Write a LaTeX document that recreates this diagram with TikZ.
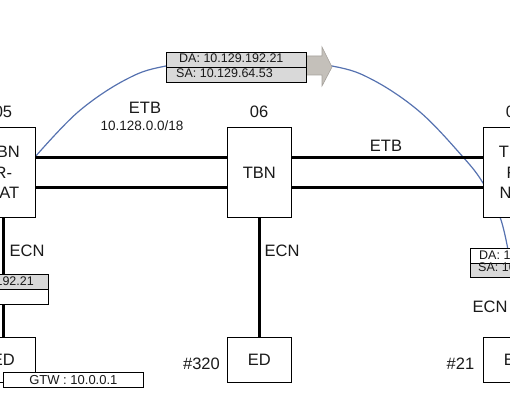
\documentclass[tikz,border=0pt]{standalone}
\usepackage{fontspec}
\setmainfont{Liberation Sans}
\definecolor{arcblue}{HTML}{5672B0}
\definecolor{lblgray}{HTML}{D9D9D9}
\definecolor{arrfill}{HTML}{C4C0BA}
\definecolor{arrdraw}{HTML}{A5A19B}
\definecolor{txt}{HTML}{1A1A1A}
\begin{document}
\begin{tikzpicture}[x=1pt,y=-1pt,
  bigtxt/.style={font=\fontsize{16.5}{20.5}\selectfont, text=txt, inner sep=0pt},
  midtxt/.style={font=\fontsize{13.5}{16}\selectfont, text=txt, inner sep=0pt},
  lbltxt/.style={font=\fontsize{12.5}{14}\selectfont, text=txt, inner sep=0pt},
  gtwtxt/.style={font=\fontsize{13}{14}\selectfont, text=txt, inner sep=0pt},
  tbnbox/.style={draw=black, line width=0.8pt, fill=white, minimum width=64pt, minimum height=90pt, inner sep=0pt, anchor=north west, align=center, bigtxt},
  edbox/.style={draw=black, line width=0.8pt, fill=white, minimum width=64pt, minimum height=45pt, inner sep=0pt, anchor=north west, bigtxt},
  row/.style={draw=black, line width=0.7pt, minimum width=140pt, minimum height=15pt, inner sep=0pt, anchor=north west},
  etb/.style={line width=2.2pt, black},
  ecn/.style={line width=3pt, black},
  arcline/.style={draw=arcblue, line width=1.2pt}
]
\useasboundingbox (0,0) rectangle (510,417);
\clip (0,0) rectangle (510,417);

% blue arc
\draw[arcline] plot[smooth, tension=0.6] coordinates {(35,157) (78,112) (125,80) (166,66) (249,56) (332,66) (373,80) (420,112) (463,157) (483,183) (500,217) (508,250)};

% boxes
\node[tbnbox] (tbnL) at (-29,127) {TBN\\R-\\NAT};
\node[tbnbox] (tbn6) at (227,127) {TBN};
\node[tbnbox] (tbnR) at (483,127) {TBN\\R-\\NAT};
\node[edbox] (edL) at (-29,337) {ED};
\node[edbox] (ed6) at (227,337) {ED};
\node[edbox] (edR) at (483,337) {ED};

% ETB lines
\draw[etb] ([yshift=15pt]tbnL.east) -- ([yshift=15pt]tbn6.west);
\draw[etb] ([yshift=-15pt]tbnL.east) -- ([yshift=-15pt]tbn6.west);
\draw[etb] ([yshift=15pt]tbn6.east) -- ([yshift=15pt]tbnR.west);
\draw[etb, line width=3.2pt] ([yshift=-15pt]tbn6.east) -- ([yshift=-15pt]tbnR.west);

% ECN lines
\draw[ecn] (tbnL.south) -- (edL.north);
\draw[ecn] (tbn6.south) -- (ed6.north);
\draw[ecn] (tbnR.south) -- (edR.north);

% arrow
\filldraw[fill=arrfill, draw=arrdraw, line width=0.6pt] (300,56) -- (322,56) -- (322,47) -- (332,67) -- (322,86) -- (322,75) -- (300,75) -- cycle;

% top label
\node[row, fill=lblgray] (daTop) at (166,52) {};
\node[row, fill=lblgray, minimum height=15pt] (saTop) at (166,67) {};
\node[lbltxt, anchor=west] (daTopT) at (179,58.5) {DA: 10.129.192.21};
\node[lbltxt, anchor=west] (saTopT) at (176,73) {SA: 10.129.64.53};

% right label
\node[row, fill=white, minimum height=14.5pt] (daR) at (470,248) {};
\node[row, fill=lblgray, minimum height=14.5pt] (saR) at (470,262.5) {};
\node[lbltxt, anchor=west] (daRT) at (479,255) {DA: 10.129.192.21};
\node[lbltxt, anchor=west] (saRT) at (478,267.5) {SA: 10.129.64.53};

% left label
\node[row, fill=lblgray] (daL) at (-92,274) {};
\node[row, fill=white] (saL) at (-92,289) {};
\node[lbltxt, anchor=east] (daLT) at (34,281) {DA: 10.129.192.21};

% gateway label
\node[draw=black, line width=0.7pt, fill=white, minimum width=140pt, minimum height=15pt, inner sep=0pt, anchor=north west, gtwtxt] (gtw) at (3,372) {GTW : 10.0.0.1};

% texts
\node[bigtxt] (n05) at (3,112) {05};
\node[bigtxt] (n06) at (259,112) {06};
\node[bigtxt] (n07) at (515,112) {07};
\node[bigtxt] (etbL) at (145,108) {ETB};
\node[midtxt] (subnet) at (142,126) {10.128.0.0/18};
\node[bigtxt] (etbR) at (386,146) {ETB};
\node[bigtxt] (ecnL) at (27,251) {ECN};
\node[bigtxt] (ecn6) at (282,251) {ECN};
\node[bigtxt] (ecnR) at (490,307) {ECN};
\node[bigtxt] (h320) at (201.5,364) {\#320};
\node[bigtxt] (h21) at (460.5,364) {\#21};
\end{tikzpicture}
\end{document}
